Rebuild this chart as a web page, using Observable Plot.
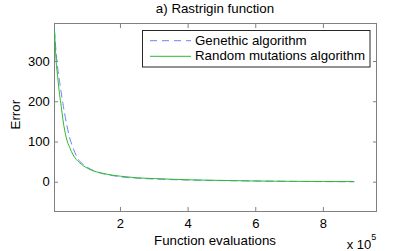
<!DOCTYPE html>
<html>
<head>
<meta charset="utf-8">
<script src="https://cdn.jsdelivr.net/npm/d3@7"></script>
<script src="https://cdn.jsdelivr.net/npm/@observablehq/plot@0.6"></script>
<style>
  html, body { margin: 0; padding: 0; background: #fff; }
  svg { display: block; }
</style>
</head>
<body>
<div id="chart"></div>
<script>
// Function evaluations (units of 1e5)
const evaluations = [0.05, 0.1, 0.15, 0.2, 0.25, 0.3, 0.4, 0.5, 0.6, 0.7, 0.8, 0.9, 1.0, 1.2, 1.4, 1.6, 1.8, 2.0, 2.5, 3.0, 3.5, 4.0, 5.0, 6.0, 7.0, 8.0, 8.9];
// Error, genetic algorithm (dashed blue)
const geneticError = [377, 320, 280, 250, 222, 195, 148, 110, 85, 65, 52, 44, 38, 29, 23, 19, 16, 13.5, 10, 8, 6.5, 5.5, 4, 3, 2, 1.5, 1.2];
// Error, random mutations algorithm (solid green)
const randomError = [377, 300, 257, 218, 188, 155, 110, 86, 68, 56, 48, 41, 36, 28, 23.5, 20, 17, 15, 11, 9, 7.5, 6, 4.5, 3, 2.3, 1.8, 1.5];

const xTicks = [2, 4, 6, 8];
const yTicks = [0, 100, 200, 300];
const seriesNames = ["Genethic algorithm", "Random mutations algorithm"];
const titleText = "a) Rastrigin function";
const xLabel = "Function evaluations";
const yLabel = "Error";

const gaData = evaluations.map((x, i) => ({x, y: geneticError[i]}));
const rmData = evaluations.map((x, i) => ({x, y: randomError[i]}));

const FONT = "Liberation Sans, Arial, Helvetica, sans-serif";
const axisColor = "#808080";
const blue = "#6d84f5";
const green = "#2dbb2d";

const plot = Plot.plot({
  width: 415,
  height: 251,
  marginLeft: 54,
  marginRight: 39,
  marginTop: 23,
  marginBottom: 40,
  style: {fontFamily: FONT, fontSize: "13px", color: "#000", background: "#fff"},
  x: {domain: [0.05, 9.57]},
  y: {domain: [-72.8, 394.5]},
  marks: [
    Plot.frame({stroke: axisColor}),
    Plot.axisX({anchor: "bottom", ticks: xTicks, tickSize: -4, tickPadding: 11, stroke: axisColor, fill: "#000", label: null, tickFormat: d => String(d)}),
    Plot.axisX({anchor: "top", ticks: xTicks, tickSize: -4, stroke: axisColor, label: null, tickFormat: () => ""}),
    Plot.axisY({anchor: "left", ticks: yTicks, tickSize: -4, tickPadding: 8.7, stroke: axisColor, fill: "#000", label: null, tickFormat: d => String(d)}),
    Plot.axisY({anchor: "right", ticks: yTicks, tickSize: -4, stroke: axisColor, label: null, tickFormat: () => ""}),
    Plot.line(gaData, {x: "x", y: "y", stroke: blue, strokeWidth: 1, strokeDasharray: "7,5", curve: "monotone-x"}),
    Plot.line(rmData, {x: "x", y: "y", stroke: green, strokeWidth: 1, curve: "monotone-x"})
  ]
});

const svg = d3.select(plot);

// Title
svg.append("text").attr("x", 215).attr("y", 13).attr("text-anchor", "middle")
  .attr("font-family", FONT).attr("font-size", 13.3).attr("fill", "#000").text(titleText);

// X label
svg.append("text").attr("x", 215).attr("y", 245.3).attr("text-anchor", "middle")
  .attr("font-family", FONT).attr("font-size", 13.3).attr("fill", "#000").text(xLabel);

// Y label
svg.append("text").attr("transform", "translate(20,114.7) rotate(-90)").attr("text-anchor", "middle")
  .attr("font-family", FONT).attr("font-size", 13.3).attr("fill", "#000").text(yLabel);

// Exponent "x 10^5"
const ex = svg.append("text").attr("x", 346.7).attr("y", 248.5).attr("text-anchor", "start")
  .attr("font-family", FONT).attr("font-size", 13).attr("fill", "#000");
ex.append("tspan").text("x 10");
ex.append("tspan").attr("font-size", 9).attr("dy", -8.5).text("5");

// Legend
const lg = svg.append("g");
lg.append("rect").attr("x", 142.5).attr("y", 30.5).attr("width", 227.5).attr("height", 36.5)
  .attr("fill", "#fff").attr("stroke", "#262626").attr("stroke-width", 1);
const legendItems = [
  {name: seriesNames[0], color: blue, dash: "7,5"},
  {name: seriesNames[1], color: green, dash: "none"}
];
legendItems.forEach((d, i) => {
  const ly = 40.7 + i * 15.6;
  lg.append("line").attr("x1", 150).attr("x2", 191).attr("y1", ly).attr("y2", ly)
    .attr("stroke", d.color).attr("stroke-width", 1).attr("stroke-dasharray", d.dash);
  lg.append("text").attr("x", 195).attr("y", ly + 4).attr("text-anchor", "start")
    .attr("font-family", FONT).attr("font-size", 13.3).attr("fill", "#000").text(d.name);
});

document.getElementById("chart").appendChild(plot);
</script>
</body>
</html>
